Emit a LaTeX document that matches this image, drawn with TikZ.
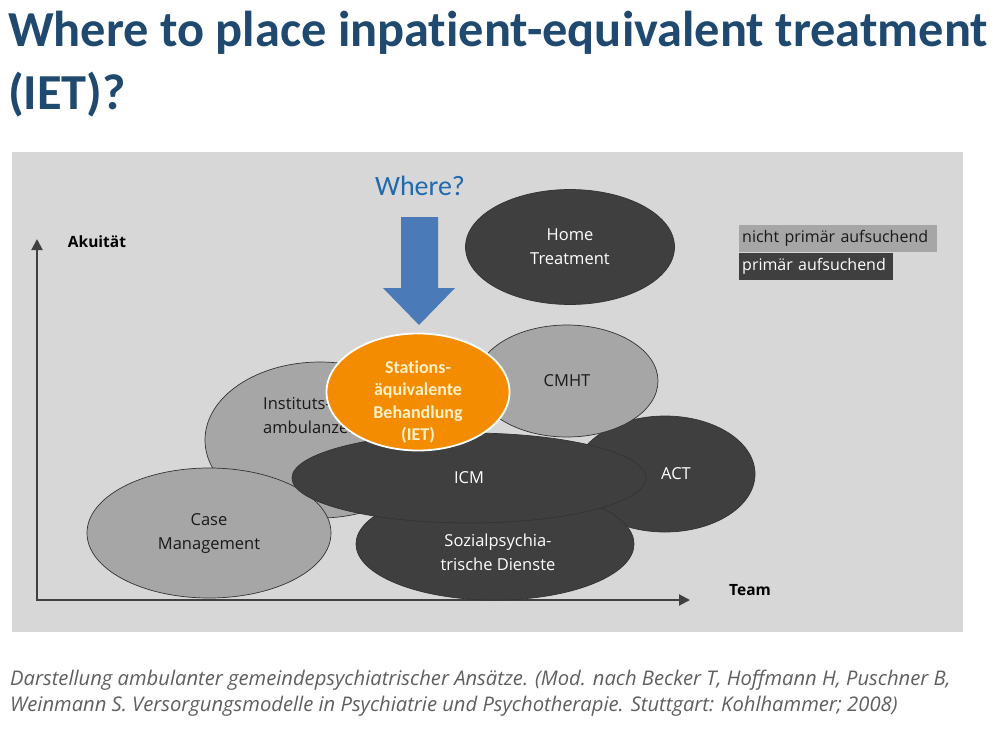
\documentclass[tikz,border=0pt]{standalone}
\usepackage{fontspec}
\setmainfont{Carlito}[Ligatures={NoCommon}]
\newfontfamily\lblfont{Open Sans}
\usepackage{tikz}
\usetikzlibrary{arrows.meta,shapes.geometric}
\definecolor{iet@title}{RGB}{31,73,110}
\definecolor{iet@panel}{RGB}{215,215,215}
\definecolor{iet@mid}{RGB}{166,166,166}
\definecolor{iet@dark}{RGB}{63,63,63}
\definecolor{iet@orange}{RGB}{243,140,0}
\definecolor{iet@cream}{RGB}{255,240,200}
\definecolor{iet@blue}{RGB}{74,122,183}
\definecolor{iet@where}{RGB}{31,106,172}
\definecolor{iet@caption}{RGB}{95,95,95}

\begin{document}
\begin{tikzpicture}[x=1pt,y=-1pt,
  light/.style={ellipse,draw=black!80,line width=0.7pt,fill=iet@mid,inner sep=0pt,
    align=center,text=black!90,font=\lblfont\fontsize{16.5}{24}\selectfont},
  dark/.style={light,fill=iet@dark,text=white},
  lbl/.style={inner sep=0pt,align=center,font=\lblfont\fontsize{16.5}{24}\selectfont},
  iet/.style={ellipse,draw=white,line width=1.8pt,fill=iet@orange,inner sep=0pt},
  ietlbl/.style={inner sep=0pt,align=center,text=iet@cream,
    font=\bfseries\fontsize{18}{22.5}\selectfont},
  axis/.style={{Triangle[length=11pt,width=11pt]}-{Triangle[length=11pt,width=11pt]},
    draw=black!75,line width=2pt},
  axislbl/.style={inner sep=0pt,font=\lblfont\bfseries\fontsize{15.5}{17}\selectfont},
  legend/.style={anchor=north west,inner xsep=3pt,inner ysep=0pt,minimum height=27pt,
    align=left,font=\lblfont\fontsize{16}{18}\selectfont}
]
\useasboundingbox[fill=white] (0,0) rectangle (1000,728);

% title and source
\node[anchor=north west,inner sep=0pt,align=left,text=iet@title,
  font=\bfseries\fontsize{50.4}{63}\selectfont] (title) at (8,11)
  {Where to place inpatient-equivalent treatment\\(IET)?};
\node[anchor=north west,inner sep=0pt,align=left,text=iet@caption,
  font=\lblfont\itshape\fontsize{20.2}{26}\selectfont] (source) at (10,670)
  {Darstellung ambulanter gemeindepsychiatrischer Ansätze. (Mod. nach Becker T, Hoffmann H, Puschner B,\\
   Weinmann S. Versorgungsmodelle in Psychiatrie und Psychotherapie. Stuttgart: Kohlhammer; 2008)};

% panel
\fill[iet@panel] (12,152) rectangle (963,632);

% axes
\coordinate (ytop) at (37,239);
\coordinate (origin) at (37,600);
\coordinate (xend) at (690,600);
\draw[axis] (ytop) -- (origin) -- (xend);
\node[axislbl] (akut) at (97,242) {Akuität};
\node[axislbl] (team) at (750,590) {Team};

% services
\node[dark,minimum width=209pt,minimum height=115pt] (home) at (570,247) {Home\\Treatment};
\node[dark,minimum width=180pt,minimum height=116pt] (act) at (665,474) {};
\node[lbl,text=white] (acttext) at (676,474) {ACT};
\node[light,minimum width=182pt,minimum height=112pt] (cmht) at (567,381) {CMHT};
\node[light,minimum width=230pt,minimum height=156pt] (inst) at (320,440) {};
\node[lbl,align=left,anchor=west,text=black!90] (insttext) at (263,416) {Instituts-\\ambulanzen};
\node[light,minimum width=244pt,minimum height=130pt] (case) at (209,533) {Case\\Management};
\node[dark,minimum width=278pt,minimum height=112pt] (sozial) at (495,544) {};
\node[lbl,text=white] (sozialtext) at (498,552) {Sozialpsychia-\\trische Dienste};
\node[dark,minimum width=354pt,minimum height=90pt] (icm) at (469,478) {ICM};
\node[iet,minimum width=183pt,minimum height=117pt] (stations) at (418,392) {};
\node[ietlbl] (stationstext) at (418,402) {Stations-\\äquivalente\\Behandlung\\(IET)};

% question
\node[inner sep=0pt,text=iet@where,font=\fontsize{28}{30}\selectfont] (where) at (420,186) {Where?};
\fill[iet@blue] (401,217) -- (438,217) -- (438,288) -- (455,288) -- (419,325)
  -- (383,288) -- (401,288) -- cycle;

% legend
\node[legend,fill=iet@mid,text=black!90,text width=192pt] (nichtprim) at (739,225) {nicht primär aufsuchend};
\node[legend,fill=iet@dark,text=white,text width=148pt] (prim) at (nichtprim.south west) {\mbox{primär aufsuchend}};
\end{tikzpicture}
\end{document}
